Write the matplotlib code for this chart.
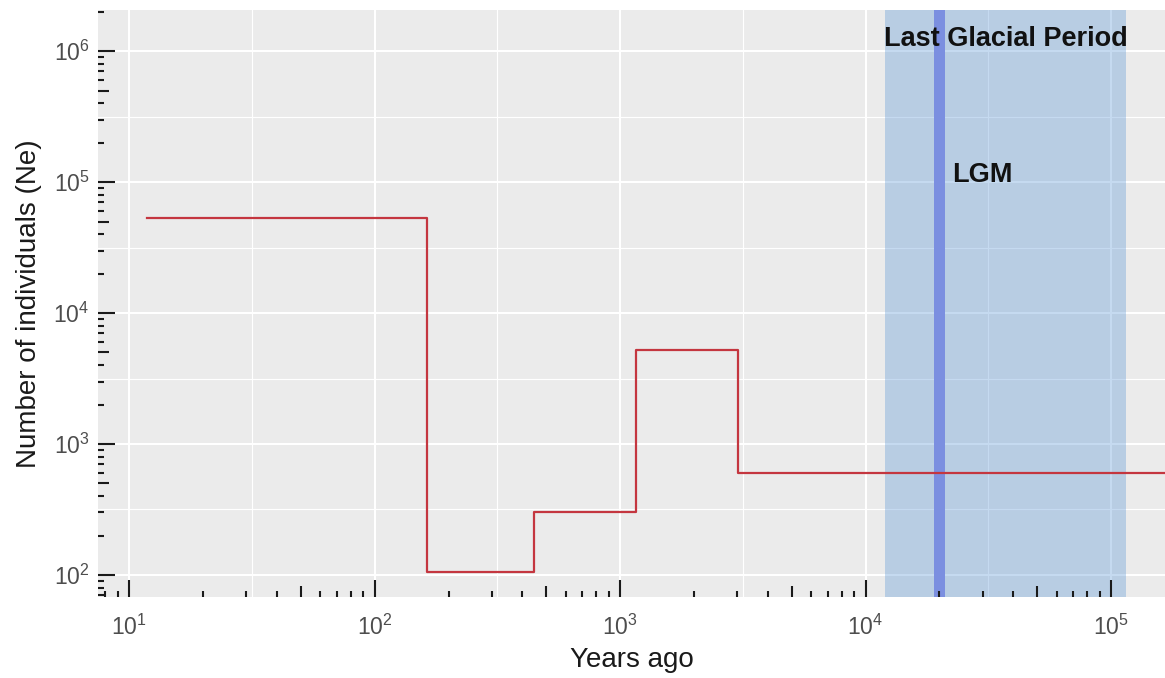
import numpy as np
import matplotlib
matplotlib.use('Agg')
import matplotlib.pyplot as plt
from matplotlib.ticker import FixedLocator, LogFormatterSciNotation, NullFormatter

plt.rcParams['font.family'] = ['Liberation Sans', 'DejaVu Sans']
plt.rcParams['mathtext.default'] = 'regular'

# Ne history (step function)
years = [11.8, 164, 446, 1160, 3020, 200000]
ne = [53000, 105, 305, 5240, 597, 597]

# periods
lgp_start, lgp_end = 12000, 115000
lgm_start, lgm_end = 19000, 21000

x_decades = [0, 1, 2, 3, 4, 5]
y_decades = [1, 2, 3, 4, 5, 6]

fig = plt.figure(figsize=(11.65, 6.78), dpi=100)
ax = fig.add_axes([98 / 1165, 1 - 597 / 678, 1067 / 1165, 587 / 678])
ax.set_facecolor('#ebebeb')
for s in ax.spines.values():
    s.set_visible(False)

ax.set_xscale('log')
ax.set_yscale('log')
ax.set_xlim(7.46, 166000)
ax.set_ylim(67.9, 2.06e6)

# grid: decades + half decades
ax.xaxis.set_major_locator(FixedLocator([10.0 ** d for d in x_decades]))
ax.yaxis.set_major_locator(FixedLocator([10.0 ** d for d in y_decades]))
ax.xaxis.set_minor_locator(FixedLocator([10.0 ** (d + 0.5) for d in x_decades]))
ax.yaxis.set_minor_locator(FixedLocator([10.0 ** (d + 0.5) for d in y_decades + [0]]))
ax.xaxis.set_major_formatter(LogFormatterSciNotation())
ax.yaxis.set_major_formatter(LogFormatterSciNotation())
ax.xaxis.set_minor_formatter(NullFormatter())
ax.yaxis.set_minor_formatter(NullFormatter())
ax.set_axisbelow(True)
ax.grid(which='major', color='white', lw=1.5)
ax.grid(which='minor', color='white', lw=0.8)
ax.tick_params(which='both', length=0, labelsize=16.5, labelcolor='#4d4d4d')
ax.tick_params(axis='x', pad=13)
ax.tick_params(axis='y', pad=6)

# shaded periods
ax.axvspan(lgp_start, lgp_end, color='#5b95d6', alpha=0.35, lw=0, zorder=1)
ax.axvspan(lgm_start, lgm_end, color='#7b8fe0', lw=0, zorder=2)

ax.step(years, ne, where='post', color='#c4363f', lw=1.6, zorder=3)

# log ticks drawn inside the panel
w_ax = 1067.0
h_ax = 587.0
long_px, mid_px, short_px = 17, 11, 6
for d in range(0, 7):
    base = 10.0 ** d
    for k in range(1, 10):
        L = long_px if k == 1 else (mid_px if k == 5 else short_px)
        ax.vlines(k * base, 0, L / h_ax, transform=ax.get_xaxis_transform(),
                  colors='#1a1a1a', lw=1.5, zorder=5)
        ax.hlines(k * base, 0, L / w_ax, transform=ax.get_yaxis_transform(),
                  colors='#1a1a1a', lw=1.5, zorder=5)

ax.text(np.sqrt(lgp_start * lgp_end), 1.1e6, 'Last Glacial Period', ha='center',
        va='baseline', fontsize=19.5, fontweight='bold', color='#111111', zorder=6)
ax.text(30000, 1.0e5, 'LGM', ha='center', va='baseline', fontsize=19.5,
        fontweight='bold', color='#111111', zorder=6)

ax.set_xlabel('Years ago', fontsize=20, color='#1a1a1a', labelpad=5)
ax.set_ylabel('Number of individuals (Ne)', fontsize=20, color='#1a1a1a', labelpad=8)

fig.savefig('out.png', dpi=100, facecolor='white')
